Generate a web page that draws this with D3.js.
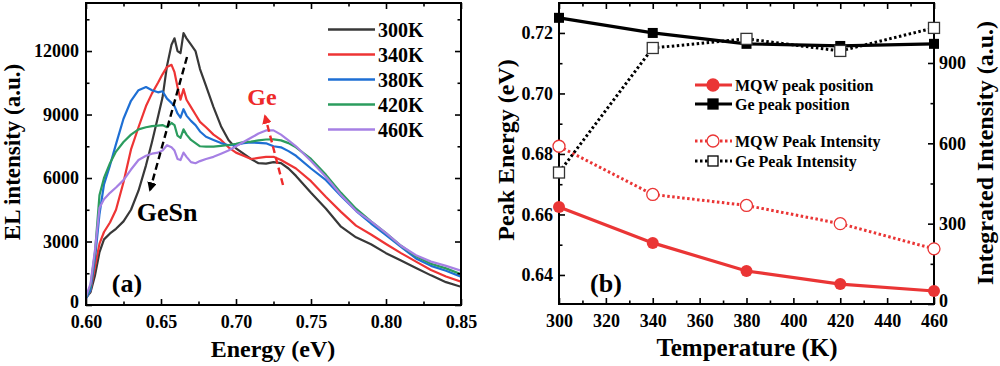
<!DOCTYPE html>
<html><head><meta charset="utf-8">
<script src="https://cdn.jsdelivr.net/npm/d3@7/dist/d3.min.js"></script>
<style>
body{margin:0;background:#fff}
text{font-family:"Liberation Serif","Times New Roman",serif;font-weight:bold;fill:#000}
</style>
</head><body>
<svg id="c" width="1000" height="366"></svg>
<script>
// ---------- Panel (a) data ----------
const energy = [0.600,0.603,0.606,0.609,0.612,0.616,0.620,0.625,0.630,0.635,0.640,0.644,0.648,0.651,0.654,0.657,0.659,0.661,0.663,0.665,0.667,0.670,0.673,0.676,0.680,0.685,0.690,0.695,0.700,0.705,0.710,0.715,0.720,0.725,0.730,0.735,0.740,0.750,0.760,0.770,0.780,0.790,0.800,0.810,0.820,0.830,0.840,0.850];
const el300K = [350,600,1400,2500,3100,3380,3600,3950,4500,5400,6600,7700,8900,9800,11300,12300,12600,12000,11900,12850,12600,12300,12000,11150,10350,9350,8450,7800,7400,7150,6900,6700,6680,6750,6700,6450,6100,5300,4550,3700,3200,2870,2450,2100,1750,1400,1080,860];
const el340K = [300,700,1800,2900,3450,3900,4500,5800,7350,8400,9400,10000,10500,10900,11250,11350,11000,10300,9700,10200,9700,9350,9000,8650,8400,8050,7800,7450,7200,7050,6900,6950,7000,7000,6850,6650,6450,5850,5100,4400,3750,3330,2880,2450,2050,1650,1350,1100];
const el380K = [300,700,2200,4300,5700,6600,7600,8800,9650,10150,10300,10150,10050,10100,9750,9550,9400,9050,8850,9250,8950,8700,8500,8200,7950,7800,7650,7550,7560,7650,7680,7660,7640,7500,7450,7270,7050,6450,5900,5150,4450,3850,3300,2750,2200,1850,1620,1340];
const el420K = [350,900,2500,5200,6000,6700,7250,7700,8050,8300,8400,8450,8480,8500,8400,8600,8500,8000,7900,8300,8050,7800,7650,7500,7480,7480,7520,7560,7620,7700,7720,7780,7820,7830,7780,7650,7450,6900,6150,5300,4550,3950,3400,2800,2300,1950,1730,1460];
const el460K = [400,1000,2600,4600,5000,5300,5550,5900,6400,6850,7050,7150,7200,7300,7550,7450,7300,6900,6850,7200,7000,6750,6700,6800,6900,7000,7150,7300,7500,7700,7900,8100,8250,8250,8050,7780,7500,6800,6050,5200,4450,3950,3400,2800,2350,2050,1850,1620];
const seriesNames = ["300K","340K","380K","420K","460K"];
const seriesColors = ["#383838","#ee3434","#1e6fd4","#2b9c5e","#a680e4"];
const energyTicks = [0.60,0.65,0.70,0.75,0.80,0.85];
const intensityTicks = [0,3000,6000,9000,12000];

// ---------- Panel (b) data ----------
const temps = [300,340,380,420,460];
const mqwPeakPos = [0.6625,0.6506,0.6413,0.6370,0.6347];
const gePeakPos  = [0.7250,0.7200,0.7164,0.7157,0.7164];
const mqwPeakInt = [589,409,368,300,206];
const gePeakInt  = [491,956,990,945,1031];
const tempTicks = [300,320,340,360,380,400,420,440,460];
const peakTicks = [0.64,0.66,0.68,0.70,0.72];
const intTicks = [0,300,600,900];

const svg = d3.select("#c");

function frameAxes(g, x, y, xt, xminor, yt, yminor, xfmt, yfmt, fs, padX, padY, y2, y2t, y2minor, y2fmt, padY2){
  const w = x.range()[1]-x.range()[0];
  const h = y.range()[0]-y.range()[1];
  const x0 = x.range()[0], yb = y.range()[0], yt0 = y.range()[1];
  const styleAxis = a => { a.select(".domain").remove(); a.selectAll("line").attr("stroke","#000").attr("stroke-width",1.6); a.selectAll("text").style("font-size",fs+"px"); };
  const zeroUp = a => a.selectAll("text").filter(d=>d===0).attr("dy","0.12em");
  g.append("g").attr("transform",`translate(0,${yb})`).call(d3.axisBottom(x).tickValues(xt).tickSize(-6).tickPadding(padX).tickFormat(xfmt)).call(styleAxis);
  g.append("g").attr("transform",`translate(0,${yb})`).call(d3.axisBottom(x).tickValues(xminor).tickSize(-3.5).tickFormat("")).call(styleAxis);
  g.append("g").attr("transform",`translate(0,${yt0})`).call(d3.axisTop(x).tickValues(xt).tickSize(-6).tickFormat("")).call(styleAxis);
  g.append("g").attr("transform",`translate(0,${yt0})`).call(d3.axisTop(x).tickValues(xminor).tickSize(-3.5).tickFormat("")).call(styleAxis);
  g.append("g").attr("transform",`translate(${x0},0)`).call(d3.axisLeft(y).tickValues(yt).tickSize(-6).tickPadding(padY).tickFormat(yfmt)).call(styleAxis).call(zeroUp);
  g.append("g").attr("transform",`translate(${x0},0)`).call(d3.axisLeft(y).tickValues(yminor).tickSize(-3.5).tickFormat("")).call(styleAxis);
  const xr = x.range()[1];
  if (y2){
    g.append("g").attr("transform",`translate(${xr},0)`).call(d3.axisRight(y2).tickValues(y2t).tickSize(-6).tickPadding(padY2).tickFormat(y2fmt)).call(styleAxis).call(zeroUp);
    g.append("g").attr("transform",`translate(${xr},0)`).call(d3.axisRight(y2).tickValues(y2minor).tickSize(-3.5).tickFormat("")).call(styleAxis);
  } else {
    g.append("g").attr("transform",`translate(${xr},0)`).call(d3.axisRight(y).tickValues(yt).tickSize(-6).tickFormat("")).call(styleAxis);
    g.append("g").attr("transform",`translate(${xr},0)`).call(d3.axisRight(y).tickValues(yminor).tickSize(-3.5).tickFormat("")).call(styleAxis);
  }
  g.append("rect").attr("x",x0).attr("y",yt0).attr("width",w).attr("height",h).attr("fill","none").attr("stroke","#000").attr("stroke-width",2);
}

// ================= Panel (a) =================
const xa = d3.scaleLinear().domain([0.6,0.85]).range([86,461]);
const ya = d3.scaleLinear().domain([0,14270]).range([305,3]);
const ga = svg.append("g");
const seriesA = [el300K,el340K,el380K,el420K,el460K];
svg.append("clipPath").attr("id","ca").append("rect").attr("x",86).attr("y",3).attr("width",375).attr("height",302);
const lineA = d3.line().x((d,i)=>xa(energy[i])).y(d=>ya(d));
seriesA.forEach((s,k)=>{
  ga.append("path").datum(s).attr("d",lineA).attr("fill","none").attr("stroke",seriesColors[k]).attr("stroke-width",2.2).attr("stroke-linejoin","round").attr("clip-path","url(#ca)");
});
frameAxes(ga, xa, ya, energyTicks, d3.range(0.625,0.85,0.05), intensityTicks, [1500,4500,7500,10500,13500],
  d3.format(".2f"), d3.format("d"), 18, 10, 7);

// legend (a)
seriesNames.forEach((n,k)=>{
  const yy = 29.5 + k*25;
  ga.append("line").attr("x1",328).attr("x2",375).attr("y1",yy).attr("y2",yy).attr("stroke",seriesColors[k]).attr("stroke-width",2.4);
  ga.append("text").attr("x",378).attr("y",yy).attr("dy","0.35em").style("font-size","20px").text(n);
});
// arrows
const defs = svg.append("defs");
function marker(id,color){
  defs.append("marker").attr("id",id).attr("viewBox","0 0 10 10").attr("refX",8).attr("refY",5)
   .attr("markerWidth",4).attr("markerHeight",4).attr("orient","auto")
   .append("path").attr("d","M0,0 L10,5 L0,10 z").attr("fill",color);
}
marker("ab","#000"); marker("ar","#ee2a2a");
ga.append("line").attr("x1",187).attr("y1",57).attr("x2",150).attr("y2",190).attr("stroke","#000").attr("stroke-width",2.4).attr("stroke-dasharray","7,4").attr("marker-end","url(#ab)");
ga.append("line").attr("x1",283).attr("y1",185).attr("x2",265).attr("y2",116).attr("stroke","#ee2a2a").attr("stroke-width",2.4).attr("stroke-dasharray","7,4").attr("marker-end","url(#ar)");
ga.append("text").attr("x",167).attr("y",212).attr("dy","0.35em").attr("text-anchor","middle").style("font-size","26px").text("GeSn");
ga.append("text").attr("x",262).attr("y",97).attr("dy","0.35em").attr("text-anchor","middle").style("font-size","24px").style("fill","#ee2a2a").text("Ge");
ga.append("text").attr("x",127).attr("y",283).attr("dy","0.35em").attr("text-anchor","middle").style("font-size","26px").text("(a)");
ga.append("text").attr("x",273).attr("y",357).attr("text-anchor","middle").style("font-size","24px").text("Energy (eV)");
ga.append("text").attr("transform","translate(20,152) rotate(-90)").attr("text-anchor","middle").style("font-size","23px").text("EL intensity (a.u.)");

// ================= Panel (b) =================
const xb = d3.scaleLinear().domain([300,460]).range([559,934]);
const yb = d3.scaleLinear().domain([0.6304,0.7299]).range([304,3]);
const yb2 = d3.scaleLinear().domain([0,1124]).range([304,3]);
const gb = svg.append("g");
const red = "#ea3535";
frameAxes(gb, xb, yb, tempTicks, d3.range(310,460,20), peakTicks, [0.65,0.67,0.69,0.71],
  d3.format("d"), d3.format(".2f"), 18, 10, 6, yb2, intTicks, [150,450,750,1050], d3.format("d"), 5);

const lPos = d3.line().x((d,i)=>xb(temps[i])).y(d=>yb(d));
const lInt = d3.line().x((d,i)=>xb(temps[i])).y(d=>yb2(d));
gb.append("path").datum(mqwPeakInt).attr("d",lInt).attr("fill","none").attr("stroke",red).attr("stroke-width",3).attr("stroke-dasharray","2.5,2.5");
gb.append("path").datum(gePeakInt).attr("d",lInt).attr("fill","none").attr("stroke","#000").attr("stroke-width",3).attr("stroke-dasharray","2.5,2.5");
gb.append("path").datum(mqwPeakPos).attr("d",lPos).attr("fill","none").attr("stroke",red).attr("stroke-width",3.2);
gb.append("path").datum(gePeakPos).attr("d",lPos).attr("fill","none").attr("stroke","#000").attr("stroke-width",3.2);
gb.selectAll(".mp").data(mqwPeakPos).enter().append("circle").attr("cx",(d,i)=>xb(temps[i])).attr("cy",d=>yb(d)).attr("r",6).attr("fill",red);
gb.selectAll(".gp").data(gePeakPos).enter().append("rect").attr("x",(d,i)=>xb(temps[i])-5).attr("y",d=>yb(d)-5).attr("width",10).attr("height",10).attr("fill","#000");
gb.selectAll(".mi").data(mqwPeakInt).enter().append("circle").attr("cx",(d,i)=>xb(temps[i])).attr("cy",d=>yb2(d)).attr("r",6).attr("fill","#fff").attr("stroke",red).attr("stroke-width",1.3);
gb.selectAll(".gi").data(gePeakInt).enter().append("rect").attr("x",(d,i)=>xb(temps[i])-5.5).attr("y",d=>yb2(d)-5.5).attr("width",11).attr("height",11).attr("fill","#fff").attr("stroke","#333").attr("stroke-width",1.3);

// legend (b)
const lg = [
  {y:85, c:red, solid:true, m:"circle", fill:red, t:"MQW peak position"},
  {y:104, c:"#000", solid:true, m:"square", fill:"#000", t:"Ge peak position"},
  {y:141, c:red, solid:false, m:"circle", fill:"#fff", t:"MQW Peak Intensity"},
  {y:161, c:"#000", solid:false, m:"square", fill:"#fff", t:"Ge Peak Intensity"}
];
lg.forEach(o=>{
  gb.append("line").attr("x1",695).attr("x2",732).attr("y1",o.y).attr("y2",o.y).attr("stroke",o.c).attr("stroke-width",3).attr("stroke-dasharray",o.solid?null:"2.5,2.5");
  if (o.m==="circle") gb.append("circle").attr("cx",713).attr("cy",o.y).attr("r",6).attr("fill",o.fill).attr("stroke",o.c).attr("stroke-width",1.3);
  else gb.append("rect").attr("x",708).attr("y",o.y-5).attr("width",10).attr("height",10).attr("fill",o.fill).attr("stroke",o.c).attr("stroke-width",1.3);
  gb.append("text").attr("x",735).attr("y",o.y).attr("dy","0.35em").style("font-size","16px").text(o.t);
});
gb.append("text").attr("x",606).attr("y",283).attr("dy","0.35em").attr("text-anchor","middle").style("font-size","26px").text("(b)");
gb.append("text").attr("x",747).attr("y",356).attr("text-anchor","middle").style("font-size","25px").text("Temperature (K)");
gb.append("text").attr("transform","translate(514,150) rotate(-90)").attr("text-anchor","middle").style("font-size","24px").text("Peak Energy (eV)");
gb.append("text").attr("transform","translate(993,153) rotate(-90)").attr("text-anchor","middle").style("font-size","24px").text("Integrated Intensity (a.u.)");
</script>
</body></html>
